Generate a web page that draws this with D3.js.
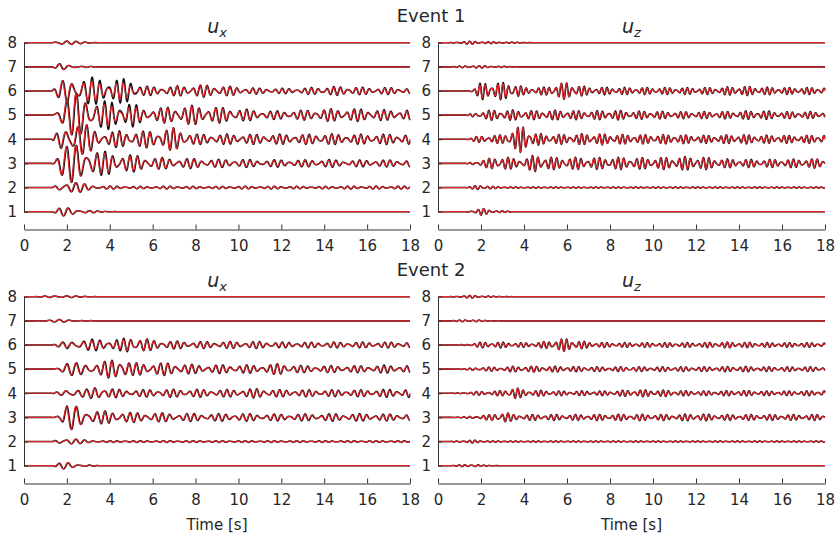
<!DOCTYPE html>
<html>
<head>
<meta charset="utf-8">
<script src="https://cdn.jsdelivr.net/npm/d3@7"></script>
<style>
body { margin: 0; background: #fff; }
text { font-family: "DejaVu Sans", sans-serif; fill: #262626; }
.axis path, .axis line { stroke: #333; }
.axis text { font-size: 15px; fill: #262626; font-family: "DejaVu Sans", sans-serif; }
</style>
</head>
<body>
<svg width="835" height="540"></svg>
<script>
// envelope knots (seconds) and amplitudes, in trace units
var knots = [0,0.5,1.3,1.7,2,2.5,3,3.5,4,4.5,5,5.5,6,7,8,9,10,11,12,13,14,15,16,17,18];
var traces = [1,2,3,4,5,6,7,8];
var xTicks = [0,2,4,6,8,10,12,14,16,18];

// event 1, u_x  (rows = trace 1..8)
var e1uxRed = [
  [0,0,0,0.14,0.15,0.1,0.05,0.02,0.01,0,0,0,0,0,0,0,0,0,0,0,0,0,0,0,0],
  [0,0,0,0.18,0.25,0.18,0.1,0.06,0.05,0.05,0.04,0.04,0.04,0.05,0.04,0.04,0.05,0.04,0.05,0.04,0.04,0.05,0.05,0.05,0.05],
  [0,0,0,0.45,0.6,0.75,0.6,0.35,0.35,0.3,0.25,0.25,0.2,0.15,0.15,0.12,0.12,0.1,0.1,0.1,0.12,0.08,0.1,0.1,0.1],
  [0,0,0,0.4,0.6,0.65,0.45,0.2,0.22,0.25,0.25,0.25,0.3,0.4,0.15,0.15,0.15,0.15,0.15,0.15,0.18,0.15,0.15,0.15,0.15],
  [0,0,0,0.4,0.6,0.8,0.7,0.4,0.35,0.35,0.3,0.2,0.2,0.3,0.3,0.25,0.2,0.12,0.12,0.15,0.2,0.2,0.18,0.15,0.15],
  [0,0,0,0.3,0.5,0.45,0.35,0.3,0.3,0.3,0.25,0.15,0.12,0.15,0.2,0.18,0.12,0.08,0.07,0.08,0.12,0.15,0.1,0.1,0.08],
  [0,0,0,0.12,0.08,0.04,0.02,0,0,0,0,0,0,0,0,0,0,0,0,0,0,0,0,0,0],
  [0,0,0,0.12,0.08,0.04,0.02,0,0,0,0,0,0,0,0,0,0,0,0,0,0,0,0,0,0]
];
var e1uxBlkMid = [
  [0,0,0,0.45,0.6,0.75,0.62,0.42,0.42,0.35,0.3,0.28,0.22,0.18,0.17,0.14,0.15,0.12,0.13,0.12,0.15,0.1,0.13,0.12,0.13],
  [0,0,0,0.4,0.6,0.65,0.47,0.25,0.27,0.3,0.28,0.28,0.32,0.4,0.18,0.18,0.18,0.17,0.18,0.17,0.2,0.17,0.18,0.18,0.18],
  [0,0,0,0.4,0.6,0.8,0.7,0.5,0.5,0.5,0.45,0.25,0.22,0.32,0.34,0.28,0.24,0.15,0.15,0.17,0.22,0.22,0.22,0.18,0.18],
  [0,0,0,0.3,0.5,0.5,0.5,0.45,0.45,0.42,0.45,0.18,0.15,0.17,0.22,0.2,0.14,0.1,0.09,0.1,0.15,0.16,0.12,0.12,0.1]
];

// event 1, u_z
var e1uzRed = [
  [0,0,0,0.06,0.12,0.06,0.03,0,0,0,0,0,0,0,0,0,0,0,0,0,0,0,0,0,0],
  [0,0,0,0.06,0.1,0.04,0.02,0.02,0.02,0.02,0.02,0.02,0.02,0.02,0.02,0.02,0.02,0.02,0.02,0.02,0.02,0.02,0.02,0.02,0.02],
  [0,0,0,0.08,0.1,0.2,0.25,0.15,0.15,0.28,0.25,0.18,0.2,0.18,0.2,0.18,0.18,0.2,0.22,0.15,0.12,0.12,0.12,0.15,0.15],
  [0,0,0,0.08,0.12,0.12,0.15,0.35,0.5,0.2,0.15,0.15,0.15,0.2,0.18,0.15,0.15,0.15,0.12,0.12,0.15,0.12,0.12,0.12,0.15],
  [0,0,0,0.08,0.1,0.15,0.15,0.15,0.15,0.12,0.15,0.15,0.15,0.12,0.15,0.12,0.12,0.1,0.1,0.1,0.12,0.12,0.1,0.1,0.1],
  [0,0,0,0.08,0.25,0.3,0.25,0.25,0.1,0.1,0.12,0.25,0.3,0.1,0.1,0.1,0.1,0.1,0.1,0.1,0.15,0.12,0.1,0.1,0.1],
  [0,0,0.04,0.05,0.04,0.03,0.02,0.01,0,0,0,0,0,0,0,0,0,0,0,0,0,0,0,0,0],
  [0,0,0.05,0.05,0.04,0.03,0.02,0.02,0.01,0,0,0,0,0,0,0,0,0,0,0,0,0,0,0,0]
];
var e1uzBlkMid = [
  [0,0,0,0.08,0.1,0.2,0.27,0.17,0.17,0.3,0.27,0.2,0.22,0.2,0.22,0.2,0.2,0.22,0.25,0.17,0.14,0.14,0.14,0.16,0.16],
  [0,0,0,0.08,0.12,0.13,0.16,0.35,0.5,0.22,0.17,0.17,0.17,0.2,0.18,0.16,0.16,0.16,0.14,0.14,0.17,0.14,0.14,0.13,0.16],
  [0,0,0,0.08,0.12,0.18,0.18,0.18,0.17,0.15,0.17,0.17,0.17,0.14,0.18,0.14,0.14,0.12,0.12,0.12,0.14,0.16,0.12,0.12,0.12],
  [0,0,0,0.1,0.3,0.32,0.3,0.3,0.12,0.12,0.14,0.25,0.3,0.13,0.13,0.12,0.12,0.12,0.12,0.12,0.17,0.14,0.12,0.12,0.12]
];

// event 2, u_x
var e2uxRed = [
  [0,0,0,0.1,0.12,0.06,0.03,0,0,0,0,0,0,0,0,0,0,0,0,0,0,0,0,0,0],
  [0,0,0,0.12,0.15,0.08,0.04,0.03,0.03,0.03,0.03,0.03,0.03,0.03,0.03,0.03,0.03,0.03,0.03,0.03,0.03,0.03,0.03,0.03,0.03],
  [0,0,0,0.1,0.4,0.45,0.25,0.2,0.2,0.2,0.15,0.15,0.15,0.12,0.12,0.1,0.12,0.1,0.1,0.1,0.1,0.1,0.1,0.1,0.1],
  [0,0,0,0.08,0.2,0.12,0.12,0.3,0.15,0.1,0.1,0.1,0.12,0.12,0.12,0.1,0.12,0.15,0.1,0.1,0.1,0.1,0.1,0.1,0.12],
  [0,0,0,0.12,0.2,0.2,0.2,0.2,0.3,0.45,0.2,0.2,0.2,0.2,0.12,0.12,0.12,0.12,0.2,0.1,0.1,0.1,0.1,0.1,0.1],
  [0,0,0,0.08,0.12,0.15,0.15,0.15,0.15,0.15,0.3,0.25,0.15,0.12,0.1,0.1,0.1,0.1,0.08,0.08,0.08,0.08,0.08,0.08,0.08],
  [0,0,0.03,0.05,0.04,0.02,0.01,0,0,0,0,0,0,0,0,0,0,0,0,0,0,0,0,0,0],
  [0,0,0.04,0.06,0.04,0.02,0.01,0,0,0,0,0,0,0,0,0,0,0,0,0,0,0,0,0,0]
];
var e2uxBlkMid = [
  [0,0,0,0.1,0.4,0.45,0.28,0.23,0.22,0.22,0.17,0.17,0.17,0.14,0.14,0.13,0.14,0.12,0.12,0.12,0.13,0.13,0.13,0.12,0.12],
  [0,0,0,0.08,0.2,0.14,0.14,0.3,0.18,0.13,0.13,0.12,0.14,0.14,0.14,0.12,0.14,0.17,0.12,0.12,0.12,0.12,0.12,0.14,0.15],
  [0,0,0,0.12,0.22,0.22,0.22,0.22,0.32,0.48,0.22,0.22,0.22,0.22,0.15,0.15,0.15,0.14,0.2,0.12,0.12,0.12,0.12,0.14,0.12],
  [0,0,0,0.08,0.15,0.2,0.2,0.2,0.2,0.2,0.32,0.25,0.17,0.14,0.12,0.12,0.12,0.12,0.1,0.1,0.1,0.1,0.1,0.1,0.1]
];

// event 2, u_z
var e2uzRed = [
  [0,0,0.04,0.06,0.02,0.01,0,0,0,0,0,0,0,0,0,0,0,0,0,0,0,0,0,0,0],
  [0,0,0.04,0.05,0.03,0.02,0.02,0.02,0.02,0.02,0.02,0.02,0.02,0.02,0.02,0.02,0.02,0.02,0.02,0.02,0.02,0.02,0.02,0.02,0.02],
  [0,0,0.02,0.06,0.06,0.1,0.22,0.1,0.08,0.08,0.08,0.08,0.08,0.08,0.1,0.1,0.1,0.08,0.1,0.08,0.08,0.08,0.08,0.08,0.08],
  [0,0,0.02,0.06,0.06,0.06,0.1,0.22,0.1,0.08,0.08,0.06,0.06,0.06,0.06,0.1,0.1,0.08,0.06,0.06,0.08,0.06,0.06,0.06,0.08],
  [0,0,0.02,0.05,0.06,0.06,0.06,0.08,0.08,0.1,0.1,0.08,0.08,0.06,0.06,0.06,0.06,0.06,0.06,0.06,0.08,0.06,0.06,0.06,0.06],
  [0,0,0.02,0.06,0.08,0.08,0.08,0.06,0.06,0.06,0.12,0.2,0.22,0.08,0.06,0.06,0.06,0.06,0.06,0.1,0.1,0.06,0.06,0.06,0.06],
  [0,0,0.04,0.04,0.02,0.01,0,0,0,0,0,0,0,0,0,0,0,0,0,0,0,0,0,0,0],
  [0,0,0.04,0.05,0.03,0.02,0.01,0,0,0,0,0,0,0,0,0,0,0,0,0,0,0,0,0,0]
];
var e2uzBlkMid = [
  [0,0,0.02,0.06,0.07,0.1,0.22,0.1,0.1,0.1,0.1,0.1,0.1,0.1,0.11,0.11,0.11,0.1,0.13,0.1,0.1,0.1,0.1,0.1,0.1],
  [0,0,0.02,0.06,0.07,0.07,0.1,0.22,0.12,0.1,0.1,0.08,0.08,0.08,0.08,0.12,0.12,0.1,0.08,0.08,0.1,0.08,0.08,0.08,0.1],
  [0,0,0.02,0.05,0.07,0.07,0.07,0.1,0.1,0.1,0.1,0.1,0.1,0.08,0.08,0.08,0.08,0.08,0.08,0.08,0.1,0.08,0.08,0.08,0.08],
  [0,0,0.02,0.06,0.1,0.1,0.1,0.08,0.08,0.08,0.12,0.2,0.22,0.1,0.08,0.08,0.08,0.08,0.08,0.1,0.1,0.08,0.08,0.08,0.08]
];

// dominant frequency (Hz) over time, read from peak spacing
var uxFreqT = [0, 2.5, 4, 18];
var uxFreqV = [2.0, 2.1, 2.7, 2.9];
var uzFreqT = [0, 3, 18];
var uzFreqV = [3.3, 3.6, 3.7];
var traceMult = [1.0, 1.04, 0.97, 1.02, 0.99, 1.03, 0.96, 1.01];
var phase0    = [0.0, 1.1, 2.3, 0.7, 1.9, 2.9, 0.4, 1.6];

function withMid(red, mid) { return [red[0], red[1], mid[0], mid[1], mid[2], mid[3], red[6], red[7]]; }

var panels = [
  {row: 0, col: 0, comp: "x", event: "Event 1", red: e1uxRed, blk: withMid(e1uxRed, e1uxBlkMid), fT: uxFreqT, fV: uxFreqV},
  {row: 0, col: 1, comp: "z", event: null,      red: e1uzRed, blk: withMid(e1uzRed, e1uzBlkMid), fT: uzFreqT, fV: uzFreqV},
  {row: 1, col: 0, comp: "x", event: "Event 2", red: e2uxRed, blk: withMid(e2uxRed, e2uxBlkMid), fT: uxFreqT, fV: uxFreqV},
  {row: 1, col: 1, comp: "z", event: null,      red: e2uzRed, blk: withMid(e2uzRed, e2uzBlkMid), fT: uzFreqT, fV: uzFreqV}
];

var svg = d3.select("svg");
var colX = [[24, 410], [438, 825]];
var rowTop = [42.7, 296.7];
var traceSpan = 169;
var dt = 0.01;
var times = d3.range(0, 18 + dt / 2, dt);

panels.forEach(function(p) {
  var x = d3.scaleLinear().domain([0, 18]).range(colX[p.col]);
  var y = d3.scaleLinear().domain([1, 8]).range([rowTop[p.row] + traceSpan, rowTop[p.row]]);
  var freq = d3.scaleLinear().domain(p.fT).range(p.fV).clamp(true);
  var g = svg.append("g");

  function wave(envRow, k, shift) {
    var env = d3.scaleLinear().domain(knots).range(envRow).clamp(true);
    var ph = phase0[k];
    return times.map(function(t) {
      ph += 2 * Math.PI * freq(t) * traceMult[k] * dt;
      var c = (Math.sin(ph - shift) + 0.55 * Math.sin(1.28 * (ph - shift) + 2 * phase0[k])) / 1.3;
      return [t, traces[k] + env(t) * c];
    });
  }
  var line = d3.line().x(function(d) { return x(d[0]); }).y(function(d) { return y(d[1]); });

  traces.forEach(function(tr, k) {
    g.append("path")
      .attr("d", line(wave(p.blk[k], k, 0.35)))
      .attr("fill", "none")
      .attr("stroke", "#111")
      .attr("stroke-width", 1.6);
    g.append("path")
      .attr("d", line(wave(p.red[k], k, 0)))
      .attr("fill", "none")
      .attr("stroke", "#e3242b")
      .attr("stroke-width", 1.2);
  });

  var axisY = rowTop[p.row] + traceSpan + 17.8;
  g.append("g").attr("class", "axis")
    .attr("transform", "translate(" + colX[p.col][0] + ",0)")
    .call(d3.axisLeft(y).tickValues(traces).tickFormat(d3.format("d"))
      .tickSizeInner(-4).tickSizeOuter(0).tickPadding(7));
  g.append("g").attr("class", "axis")
    .attr("transform", "translate(0," + axisY + ")")
    .call(d3.axisBottom(x).tickValues(xTicks).tickFormat(d3.format("d"))
      .tickSizeInner(-5).tickSizeOuter(0).tickPadding(11));

  var cx = (colX[p.col][0] + colX[p.col][1]) / 2;
  var lab = g.append("text")
    .attr("x", cx).attr("y", rowTop[p.row] - 10)
    .attr("text-anchor", "middle")
    .style("font-size", "19px").style("font-style", "italic");
  lab.append("tspan").text("u");
  lab.append("tspan").attr("dy", 4).style("font-size", "13px").text(p.comp);

  if (p.event) {
    svg.append("text").attr("x", 431).attr("y", rowTop[p.row] - 21)
      .attr("text-anchor", "middle").style("font-size", "18px").text(p.event);
  }
  if (p.row === 1) {
    g.append("text").attr("x", cx).attr("y", 530)
      .attr("text-anchor", "middle").style("font-size", "15px").text("Time [s]");
  }
});
</script>
</body>
</html>
